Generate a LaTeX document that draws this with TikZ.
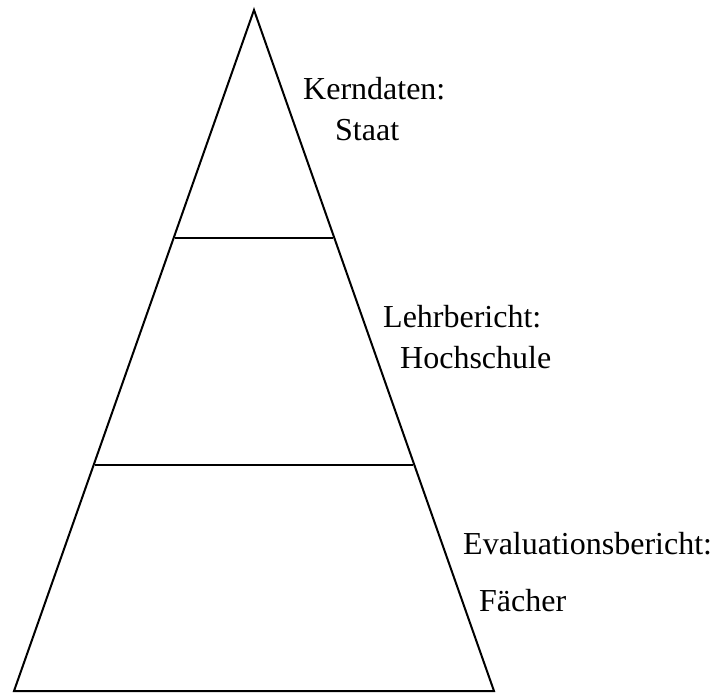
\documentclass[tikz,border=0pt]{standalone}
\usepackage{fontspec}
\setmainfont{Liberation Serif}
\begin{document}
\begin{tikzpicture}[x=1pt,y=-1pt,
  edge/.style={line width=2pt,line join=miter},
  lbl/.style={anchor=base west,inner sep=0pt,font=\fontsize{32}{38}\selectfont}]
\useasboundingbox (0,0) rectangle (716,693);
\coordinate (apex) at (254,10);
\coordinate (bl) at (14,691);
\coordinate (br) at (494,691);
\coordinate (l1) at (174.7,238);
\coordinate (r1) at (333.3,238);
\coordinate (l2) at (94.8,465);
\coordinate (r2) at (413.2,465);
\draw[edge] (apex) -- (bl) -- (br) -- cycle;
\draw[edge] (l1) -- (r1);
\draw[edge] (l2) -- (r2);
\node[lbl] (k1) at (303,100) {Kerndaten:};
\node[lbl] (k2) at (335,141) {Staat};
\node[lbl] (h1) at (383,327) {Lehrbericht:};
\node[lbl] (h2) at (400,368) {Hochschule};
\node[lbl] (f1) at (463,554) {Evaluationsbericht:};
\node[lbl] (f2) at (479,611) {Fächer};
\end{tikzpicture}
\end{document}
